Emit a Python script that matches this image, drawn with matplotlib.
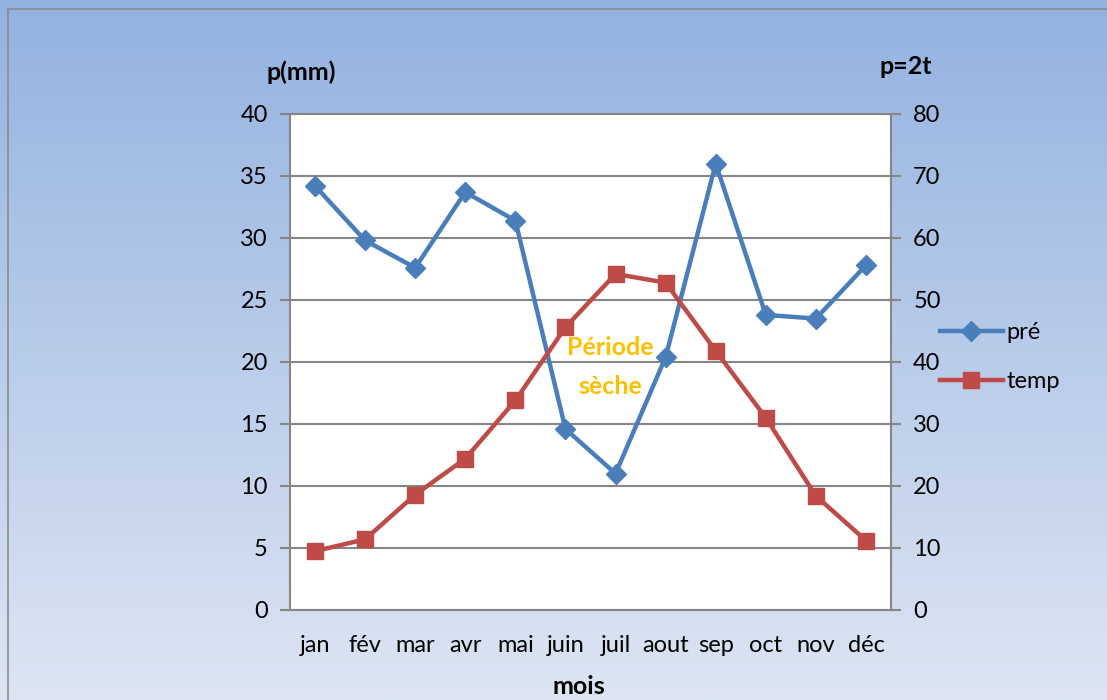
import numpy as np
import matplotlib.pyplot as plt
from matplotlib.patches import Rectangle

mois = ["jan", "fév", "mar", "avr", "mai", "juin", "juil", "aout", "sep", "oct", "nov", "déc"]
pre = [34.2, 29.8, 27.6, 33.7, 31.4, 14.6, 11.0, 20.4, 36.0, 23.8, 23.5, 27.8]
temp = [4.75, 5.7, 9.3, 12.2, 16.9, 22.8, 27.1, 26.4, 20.9, 15.5, 9.2, 5.6]

plt.rcParams['font.family'] = ['Lato', 'DejaVu Sans']

fig = plt.figure(figsize=(11.07, 7), dpi=100)

# background gradient
bg = fig.add_axes([0, 0, 1, 1], zorder=-10)
top = np.array([147, 178, 224]) / 255
bottom = np.array([221, 229, 243]) / 255
t = np.linspace(0, 1, 256)[:, None]
grad = top + (bottom - top) * t
bg.imshow(grad[:, None, :].repeat(2, axis=1), aspect='auto', extent=[0, 1, 0, 1])
bg.add_patch(Rectangle((8 / 1107, -0.1), 1.2, (700 - 9) / 700 + 0.1, fill=False,
                       edgecolor='#8c8c8c', lw=1.2))
bg.set_xlim(0, 1)
bg.set_ylim(0, 1)
bg.axis('off')

ax = fig.add_axes([290 / 1107, 1 - 610 / 700, 601 / 1107, 496 / 700])
ax.set_facecolor('white')
x = np.arange(len(mois))
ax.plot(x, pre, color='#4a7ebb', lw=3.2, marker='D', markersize=10, label='pré', zorder=3)
ax.plot(x, temp, color='#be4b48', lw=3.2, marker='s', markersize=12, label='temp', zorder=3)

ax.set_xlim(-0.5, len(mois) - 0.5)
ax.set_ylim(0, 40)
ax.set_yticks(range(0, 41, 5))
ax.set_xticks(x)
ax.set_xticklabels(mois)
ax.grid(axis='y', color='#868686', lw=1.5)
ax.set_axisbelow(True)
for s in ax.spines.values():
    s.set_color('#868686')
    s.set_linewidth(1.5)
ax.tick_params(axis='y', length=7, width=1.5, color='#868686', labelsize=17, pad=9)
ax.tick_params(axis='x', length=0, labelsize=17, pad=18)

ax2 = ax.twinx()
ax2.set_ylim(0, 80)
ax2.set_yticks(range(0, 81, 10))
ax2.tick_params(axis='y', length=7, width=1.5, color='#868686', labelsize=17, pad=9)
for s in ax2.spines.values():
    s.set_visible(False)

ax.text(5.89, 21.2, "Période", color='#ffc000', fontsize=18, fontweight='bold', ha='center', va='center', zorder=4)
ax.text(5.89, 18.0, "sèche", color='#ffc000', fontsize=18, fontweight='bold', ha='center', va='center', zorder=4)

fig.text(301 / 1107, 1 - 72 / 700, "p(mm)", fontsize=18, fontweight='bold', ha='center', va='center')
fig.text(906 / 1107, 1 - 67 / 700, "p=2t", fontsize=18, fontweight='bold', ha='center', va='center')
fig.text(579 / 1107, 1 - 686 / 700, "mois", fontsize=18, fontweight='bold', ha='center', va='center')

ax.legend(loc='center left', bbox_to_anchor=(1.065, 0.51), frameon=False, fontsize=17,
          handlelength=2.7, handletextpad=0.15, labelspacing=1.2, borderaxespad=0)

fig.savefig("out.png", dpi=100)
